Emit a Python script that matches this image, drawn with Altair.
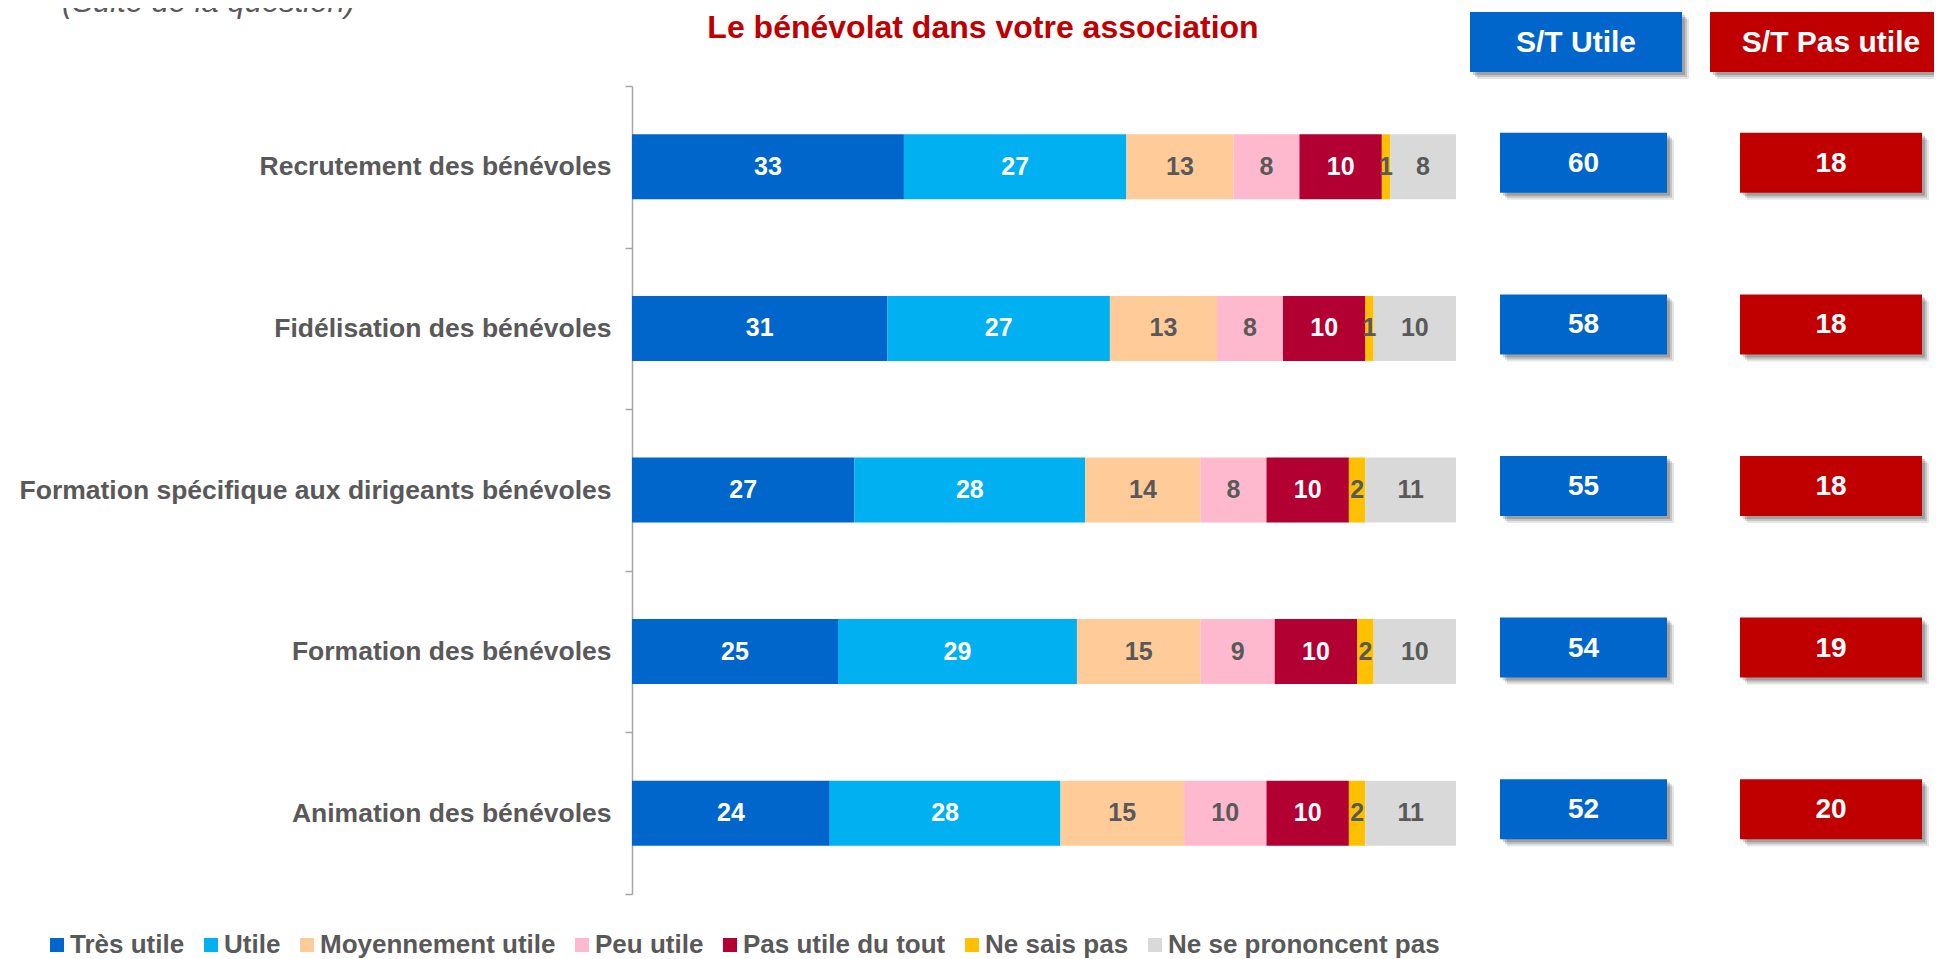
import altair as alt
import pandas as pd

# ---------------- data ----------------
categories = [
    "Recrutement des bénévoles",
    "Fidélisation des bénévoles",
    "Formation spécifique aux dirigeants bénévoles",
    "Formation des bénévoles",
    "Animation des bénévoles",
]
responses = [
    "Très utile",
    "Utile",
    "Moyennement utile",
    "Peu utile",
    "Pas utile du tout",
    "Ne sais pas",
    "Ne se prononcent pas",
]
tres_utile = [33, 31, 27, 25, 24]
utile = [27, 27, 28, 29, 28]
moyennement_utile = [13, 13, 14, 15, 15]
peu_utile = [8, 8, 8, 9, 10]
pas_utile_du_tout = [10, 10, 10, 10, 10]
ne_sais_pas = [1, 1, 2, 2, 2]
ne_se_prononcent_pas = [8, 10, 11, 10, 11]
st_utile = [60, 58, 55, 54, 52]
st_pas_utile = [18, 18, 18, 19, 20]

chart_title = "Le bénévolat dans votre association"
subtitle = "(Suite de la question)"
header_utile = "S/T Utile"
header_pas_utile = "S/T Pas utile"

colors = ["#0066CC", "#00B0F0", "#FFCC99", "#FFB9CE", "#B20032", "#FFC000", "#D9D9D9"]
white_label_responses = ["Très utile", "Utile", "Pas utile du tout"]

series = [tres_utile, utile, moyennement_utile, peu_utile,
          pas_utile_du_tout, ne_sais_pas, ne_se_prononcent_pas]

rows = []
for k, (rep, vals) in enumerate(zip(responses, series)):
    for cat, v in zip(categories, vals):
        rows.append({"cat": cat, "rep": rep, "k": k, "v": v})
df = pd.DataFrame(rows)

df_st = pd.DataFrame({"cat": categories, "st_u": st_utile, "st_p": st_pas_utile})

FONT = "Liberation Sans, Arial, sans-serif"
GRAY = "#595959"

xs = alt.Scale(domain=[0, 100], range=[0, 824], nice=False, zero=True)
y_enc = alt.Y(
    "cat:N",
    sort=categories,
    scale=alt.Scale(paddingInner=0, paddingOuter=0),
    axis=alt.Axis(
        title=None,
        domainColor="#A6A6A6",
        domainWidth=1.5,
        tickColor="#A6A6A6",
        tickWidth=1.5,
        tickSize=7,
        tickBand="extent",
        labelFont=FONT,
        labelFontSize=26.5,
        labelFontWeight="bold",
        labelColor=GRAY,
        labelPadding=14,
        labelLimit=1000,
        grid=False,
    ),
)

stacked = (
    alt.Chart(df)
    .transform_stack(
        stack="v",
        groupby=["cat"],
        sort=[alt.SortField("k", order="ascending")],
        as_=["x0", "x1"],
    )
    .transform_calculate(mid="(datum.x0 + datum.x1) / 2")
)

bars = stacked.mark_bar(size=65).encode(
    x=alt.X("x0:Q", scale=xs, axis=None),
    x2="x1:Q",
    y=y_enc,
    color=alt.Color(
        "rep:N",
        scale=alt.Scale(domain=responses, range=colors),
        legend=alt.Legend(
            title=None,
            orient="none",
            legendX=-588,
            legendY=846,
            direction="horizontal",
            symbolType="square",
            symbolSize=196,
            symbolStrokeWidth=0,
            labelFont=FONT,
            labelFontSize=26,
            labelFontWeight="bold",
            labelColor=GRAY,
            labelOffset=0,
            columnPadding=13,
            labelLimit=1000,
            padding=0,
        ),
    ),
)

labels = stacked.mark_text(font=FONT, fontSize=25, fontWeight="bold", baseline="middle").encode(
    x=alt.X("mid:Q", scale=xs, axis=None),
    y=alt.Y("cat:N", sort=categories),
    text="v:Q",
    color=alt.condition(
        alt.FieldOneOfPredicate(field="rep", oneOf=white_label_responses),
        alt.value("white"),
        alt.value(GRAY),
    ),
)

# ---------- S/T boxes (per category) ----------
st_base = alt.Chart(df_st)
SHADOW = [(7, 0.10), (5, 0.14), (3, 0.18)]


def st_column(x_left, x_right, fill, field):
    layers = []
    for off, op in SHADOW:
        layers.append(
            st_base.mark_bar(size=60, yOffset=-4 + off, color="#000000", opacity=op).encode(
                x=alt.value(x_left + off), x2=alt.value(x_right + off), y=alt.Y("cat:N", sort=categories)
            )
        )
    layers.append(
        st_base.mark_bar(size=60, yOffset=-4, color=fill).encode(
            x=alt.value(x_left), x2=alt.value(x_right), y=alt.Y("cat:N", sort=categories)
        )
    )
    layers.append(
        st_base.mark_text(font=FONT, fontSize=28, fontWeight="bold", color="white", dy=-3, baseline="middle").encode(
            x=alt.value((x_left + x_right) / 2), y=alt.Y("cat:N", sort=categories), text=f"{field}:Q"
        )
    )
    return layers


st_layers = st_column(868, 1035, "#0066CC", "st_u") + st_column(1108, 1290, "#C00000", "st_p")

# ---------- headers ----------
hdr_df = pd.DataFrame({"a": [0]})


def header(x_left, x_right, fill, text):
    layers = []
    for off, op in SHADOW:
        layers.append(
            alt.Chart(hdr_df).mark_rect(color="#000000", opacity=op).encode(
                x=alt.value(x_left + off), x2=alt.value(x_right + off),
                y=alt.value(-74 + off), y2=alt.value(-14 + off)
            )
        )
    layers.append(
        alt.Chart(hdr_df).mark_rect(color=fill).encode(
            x=alt.value(x_left), x2=alt.value(x_right), y=alt.value(-74), y2=alt.value(-14)
        )
    )
    layers.append(
        alt.Chart(hdr_df).mark_text(
            text=text, font=FONT, fontSize=30, fontWeight="bold", color="white", baseline="middle"
        ).encode(x=alt.value((x_left + x_right) / 2), y=alt.value(-43))
    )
    return layers


hdr_layers = header(838, 1050, "#0066CC", header_utile) + header(1078, 1320, "#C00000", header_pas_utile)

title_mark = alt.Chart(hdr_df).mark_text(
    text=chart_title, font=FONT, fontSize=32, fontWeight="bold", color="#C00000",
    align="center", baseline="middle",
).encode(x=alt.value(351), y=alt.value(-58))

subtitle_mark = alt.Chart(hdr_df).mark_text(
    text=subtitle, font=FONT, fontSize=31, fontStyle="italic", color=GRAY,
    align="left", baseline="alphabetic",
).encode(x=alt.value(-570), y=alt.value(-74))

chart = (
    alt.layer(bars, labels, *st_layers, *hdr_layers, title_mark, subtitle_mark)
    .properties(
        width=1302,
        height=808,
        autosize=alt.AutoSizeParams(type="none"),
        padding={"left": 624, "top": 78, "right": 0, "bottom": 65},
    )
    .configure_view(stroke=None)
)

chart.save("out.html", embed_options={"renderer": "svg", "actions": False})
